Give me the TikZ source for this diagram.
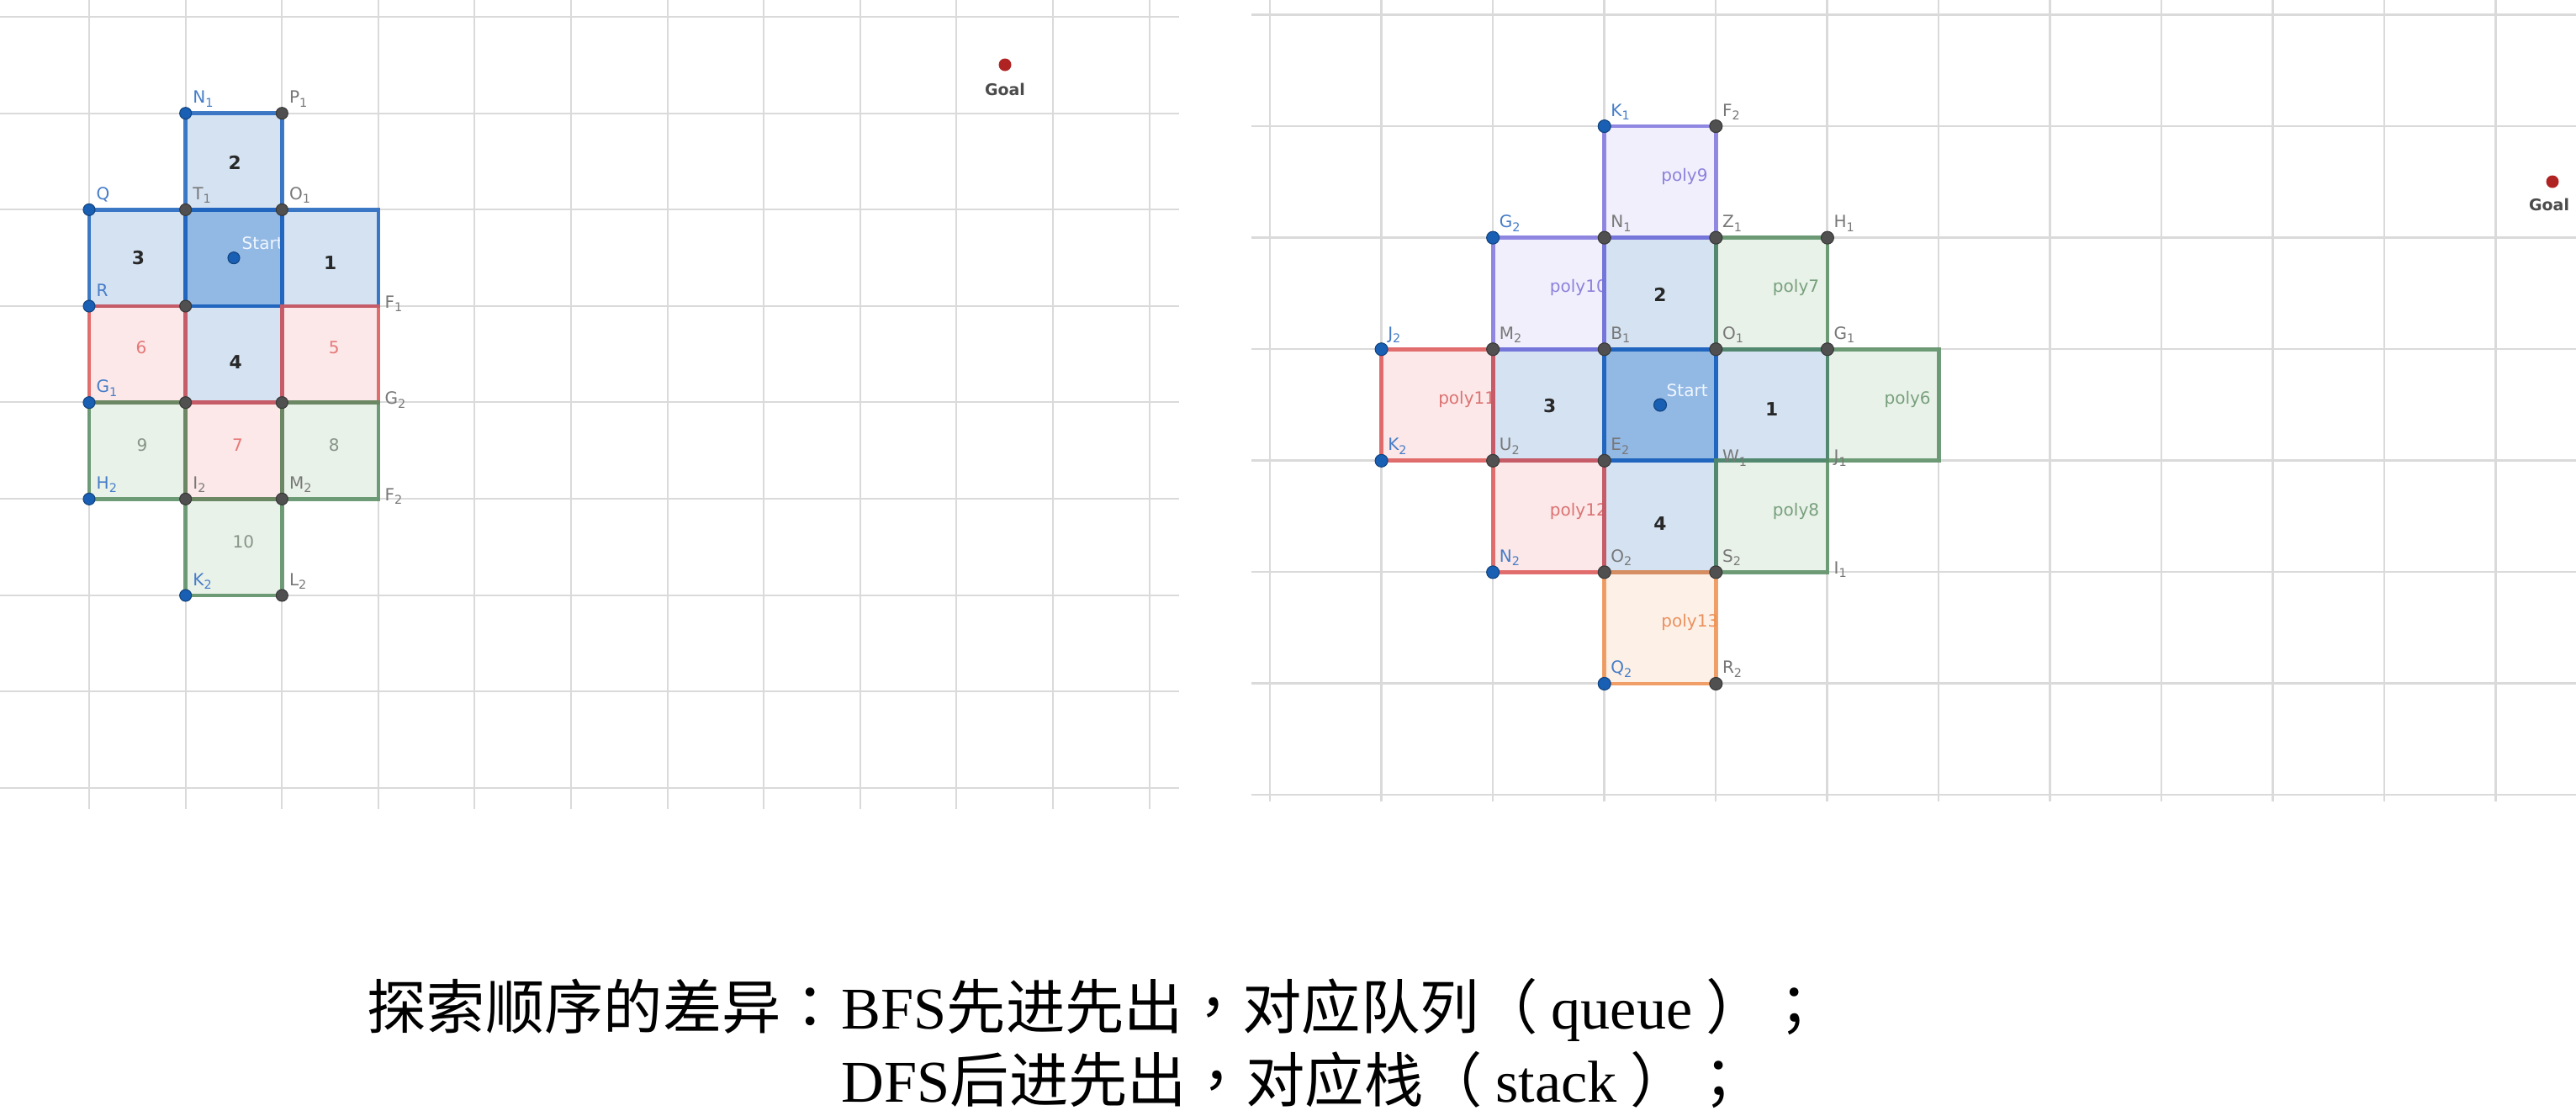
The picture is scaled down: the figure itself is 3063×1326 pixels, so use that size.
\documentclass[tikz,border=0pt]{standalone}
\usepackage{fontspec}
\setmainfont{Liberation Serif}
\newfontfamily\cjk{Noto Sans CJK SC}
\newfontfamily\cjkp{Noto Sans CJK TC}
\newfontfamily\ggb{DejaVu Sans}
\definecolor{gridc}{RGB}{218,218,218}
\definecolor{bstroke}{RGB}{30,100,190}
\definecolor{bfill}{RGB}{212,226,242}
\definecolor{sfill}{RGB}{146,184,228}
\definecolor{rstroke}{RGB}{222,88,88}
\definecolor{rfill}{RGB}{252,232,232}
\definecolor{gstroke}{RGB}{88,140,98}
\definecolor{gfill}{RGB}{233,242,233}
\definecolor{pstroke}{RGB}{128,118,222}
\definecolor{pfill}{RGB}{241,239,252}
\definecolor{ostroke}{RGB}{240,145,80}
\definecolor{ofill}{RGB}{253,241,231}
\definecolor{ptblue}{RGB}{25,95,180}
\definecolor{ptgray}{RGB}{80,80,80}
\definecolor{lblue}{RGB}{70,125,200}
\definecolor{lgray}{RGB}{120,120,120}
\definecolor{goalc}{RGB}{175,35,35}
\definecolor{numk}{RGB}{40,40,40}
\definecolor{numr}{RGB}{230,120,120}
\definecolor{numg}{RGB}{135,148,135}
\definecolor{polyp}{RGB}{140,130,220}
\definecolor{polyg}{RGB}{120,160,125}
\definecolor{polyr}{RGB}{220,115,115}
\definecolor{polyo}{RGB}{235,145,95}
\newcommand\glab{\ggb\fontsize{5.7}{6.5}\selectfont}
\newcommand\sub[1]{\raisebox{-0.4ex}{\fontsize{4.1}{5}\selectfont #1}}
\newcommand\pu[1]{{\cjkp #1}}
\begin{document}
\begin{tikzpicture}[x=0.01cm, y=-0.01cm,
  gridline/.style={draw=gridc, line width=0.6pt},
  edge/.style={line width=1.25pt, draw opacity=0.85, line join=miter},
  ptb/.style={circle, fill=ptblue, draw=ptblue!70!black, line width=0.3pt, inner sep=0pt, minimum size=0.14cm},
  ptg/.style={circle, fill=ptgray, draw=ptgray!70!black, line width=0.3pt, inner sep=0pt, minimum size=0.14cm},
  lab/.style={font=\glab, anchor=base west, inner sep=0pt, xshift=0.08cm, yshift=0.12cm},
  labr/.style={font=\glab, anchor=base west, inner sep=0pt, xshift=0.07cm, yshift=-0.02cm, text=lgray},
  numlab/.style={font=\ggb\bfseries\fontsize{6.2}{7}\selectfont, inner sep=0pt, text=numk},
  numlight/.style={font=\glab, inner sep=0pt},
  polylab/.style={font=\glab, anchor=west, inner sep=0pt},
  startlab/.style={font=\glab, anchor=base west, inner sep=0pt, text={rgb,255:red,240;green,246;blue,255}, xshift=0.09cm, yshift=0.1cm},
  goalpt/.style={circle, fill=goalc, inner sep=0pt, minimum size=0.15cm},
  goallab/.style={font=\ggb\bfseries\fontsize{5.4}{6}\selectfont, text={rgb,255:red,75;green,75;blue,75}, inner sep=0pt},
  bottomtxt/.style={inner sep=0pt, font=\fontsize{20}{24}\selectfont}
]
\useasboundingbox (0,0) rectangle (3063,1326);
\fill[white] (0,0) rectangle (3063,1326);

% ---------- grids ----------
\foreach \k in {0,...,11} \draw[gridline] ({106+114.6*\k},0) -- ({106+114.6*\k},962);
\foreach \j in {0,...,8} \draw[gridline] (0,{20+114.6*\j}) -- (1402,{20+114.6*\j});
\foreach \k in {0,...,11} \draw[gridline] ({1510+132.5*\k},0) -- ({1510+132.5*\k},953);
\foreach \j in {0,...,7} \draw[gridline] (1488,{17.5+132.5*\j}) -- (3063,{17.5+132.5*\j});

% ---------- left panel ----------
\begin{scope}[shift={(106,20)}, x=1.146cm, y=-1.146cm]
  \foreach \c/\r in {1/1,0/2,2/2,1/3} \fill[bfill] (\c,\r) rectangle ++(1,1);
  \fill[sfill] (1,2) rectangle (2,3);
  \foreach \c/\r in {2/3,0/3,1/4} \fill[rfill] (\c,\r) rectangle ++(1,1);
  \foreach \c/\r in {2/4,0/4,1/5} \fill[gfill] (\c,\r) rectangle ++(1,1);
  % start label, hidden behind cell 1
  \begin{scope}
    \clip (1,2) rectangle (2,3);
    \node[startlab] (LStartT) at (1.5,2.5) {Start};
  \end{scope}
  \foreach \c/\r in {2/2,1/1,0/2,1/3,1/2} \draw[edge, bstroke] (\c,\r) rectangle ++(1,1);
  \foreach \c/\r in {2/3,0/3,1/4} \draw[edge, rstroke] (\c,\r) rectangle ++(1,1);
  \foreach \c/\r in {2/4,0/4,1/5} \draw[edge, gstroke] (\c,\r) rectangle ++(1,1);
  % cell numbers
  \node[numlab] (Ln1) at (2.50,2.55) {1};
  \node[numlab] (Ln2) at (1.51,1.51) {2};
  \node[numlab] (Ln3) at (0.51,2.50) {3};
  \node[numlab] (Ln4) at (1.52,3.58) {4};
  \node[numlight, text=numr] (Ln5) at (2.54,3.43) {5};
  \node[numlight, text=numr] (Ln6) at (0.54,3.43) {6};
  \node[numlight, text=numr] (Ln7) at (1.54,4.44) {7};
  \node[numlight, text=numg] (Ln8) at (2.54,4.44) {8};
  \node[numlight, text=numg] (Ln9) at (0.55,4.44) {9};
  \node[numlight, text=numg] (Ln10) at (1.60,5.44) {10};
  % points
  \foreach \c/\r [count=\i] in {1/1,0/2,0/3,0/4,0/5,1/6}
    \node[ptb] (LPb\i) at (\c,\r) {};
  \foreach \c/\r [count=\i] in {2/1,1/2,2/2,1/3,1/4,2/4,1/5,2/5,2/6}
    \node[ptg] (LPg\i) at (\c,\r) {};
  \node[ptb] (LStart) at (1.5,2.5) {};
  % point labels
  \foreach \c/\r/\a/\b [count=\i] in {1/1/N/1, 0/2/Q/, 0/3/R/, 0/4/G/1, 0/5/H/2, 1/6/K/2}
    \node[lab, text=lblue] (LLb\i) at (\c,\r) {\a\sub{\b}};
  \foreach \c/\r/\a/\b [count=\i] in {2/1/P/1, 1/2/T/1, 2/2/O/1, 1/5/I/2, 2/5/M/2, 2/6/L/2}
    \node[lab, text=lgray] (LLg\i) at (\c,\r) {\a\sub{\b}};
  \foreach \c/\r/\a/\b [count=\i] in {3/3/F/1, 3/4/G/2, 3/5/F/2}
    \node[labr] (LLr\i) at (\c,\r) {\a\sub{\b}};
\end{scope}

% ---------- right panel ----------
\begin{scope}[shift={(1510,17.5)}, x=1.325cm, y=-1.325cm]
  \foreach \c/\r in {3/2,2/3,4/3,3/4} \fill[bfill] (\c,\r) rectangle ++(1,1);
  \fill[sfill] (3,3) rectangle (4,4);
  \foreach \c/\r in {5/3,4/2,4/4} \fill[gfill] (\c,\r) rectangle ++(1,1);
  \foreach \c/\r in {3/1,2/2} \fill[pfill] (\c,\r) rectangle ++(1,1);
  \foreach \c/\r in {1/3,2/4} \fill[rfill] (\c,\r) rectangle ++(1,1);
  \fill[ofill] (3,5) rectangle (4,6);
  % polygon labels, clipped to their own cells
  \foreach \c/\r/\t/\col [count=\i] in {5/3/6/polyg, 4/2/7/polyg, 4/4/8/polyg, 3/1/9/polyp, 2/2/10/polyp, 1/3/11/polyr, 2/4/12/polyr, 3/5/13/polyo}
  {
    \begin{scope}
      \clip (\c,\r) rectangle ++(1,1);
      \node[polylab, text=\col] (RPl\i) at (\c+0.505,\r+0.45) {poly\t};
    \end{scope}
  }
  \node[startlab, xshift=-0.02cm] (RStartT) at (3.5,3.5) {Start};
  \foreach \c/\r in {3/2,2/3,4/3,3/4,3/3} \draw[edge, bstroke, line width=1.35pt] (\c,\r) rectangle ++(1,1);
  \foreach \c/\r in {5/3,4/2,4/4} \draw[edge, gstroke, line width=1.35pt] (\c,\r) rectangle ++(1,1);
  \foreach \c/\r in {3/1,2/2} \draw[edge, pstroke, line width=1.35pt] (\c,\r) rectangle ++(1,1);
  \foreach \c/\r in {1/3,2/4} \draw[edge, rstroke, line width=1.35pt] (\c,\r) rectangle ++(1,1);
  \draw[edge, ostroke, line width=1.35pt] (3,5) rectangle (4,6);
  % cell numbers
  \node[numlab] (Rn1) at (4.50,3.54) {1};
  \node[numlab] (Rn2) at (3.50,2.51) {2};
  \node[numlab] (Rn3) at (2.51,3.51) {3};
  \node[numlab] (Rn4) at (3.50,4.56) {4};
  % points
  \foreach \c/\r [count=\i] in {3/1,2/2,1/3,1/4,2/5,3/6}
    \node[ptb, minimum size=0.15cm] (RPb\i) at (\c,\r) {};
  \foreach \c/\r [count=\i] in {4/1,3/2,4/2,5/2,2/3,3/3,4/3,5/3,2/4,3/4,3/5,4/5,4/6}
    \node[ptg, minimum size=0.15cm] (RPg\i) at (\c,\r) {};
  \node[ptb, minimum size=0.15cm] (RStart) at (3.5,3.5) {};
  % point labels
  \foreach \c/\r/\a/\b [count=\i] in {3/1/K/1, 2/2/G/2, 1/3/J/2, 1/4/K/2, 2/5/N/2, 3/6/Q/2}
    \node[lab, text=lblue, xshift=-0.01cm] (RLb\i) at (\c,\r) {\a\sub{\b}};
  \foreach \c/\r/\a/\b [count=\i] in {4/1/F/2, 3/2/N/1, 4/2/Z/1, 5/2/H/1, 2/3/M/2, 3/3/B/1, 4/3/O/1, 5/3/G/1, 2/4/U/2, 3/4/E/2, 3/5/O/2, 4/5/S/2, 4/6/R/2}
    \node[lab, text=lgray, xshift=-0.01cm] (RLg\i) at (\c,\r) {\a\sub{\b}};
  \foreach \c/\r/\a/\b [count=\i] in {4/4/W/1, 5/4/J/1, 5/5/I/1}
    \node[labr] (RLr\i) at (\c,\r) {\a\sub{\b}};
\end{scope}

% ---------- goals ----------
\node[goalpt] (LGoal) at (1195,77) {};
\node[goallab] (LGoalT) at (1195,106) {Goal};
\node[goalpt] (RGoal) at (3035,216) {};
\node[goallab] (RGoalT) at (3031,243) {Goal};

% ---------- caption ----------
\node[bottomtxt, anchor=base east] (T1a) at (1000,1223) {\cjk 探索顺序的差异\pu{：}};
\node[bottomtxt, anchor=base west] (T1b) at (1000,1223) {BFS{\cjk 先进先出\pu{，}对应队列\pu{（}}\hspace{0.22em}queue\hspace{0.22em}{\cjk\pu{）；}}};
\node[bottomtxt, anchor=base west] (T2) at (1000,1310) {DFS{\cjk 后进先出\pu{，}对应栈\pu{（}}\hspace{0.22em}stack\hspace{0.22em}{\cjk\pu{）；}}};
\end{tikzpicture}
\end{document}
